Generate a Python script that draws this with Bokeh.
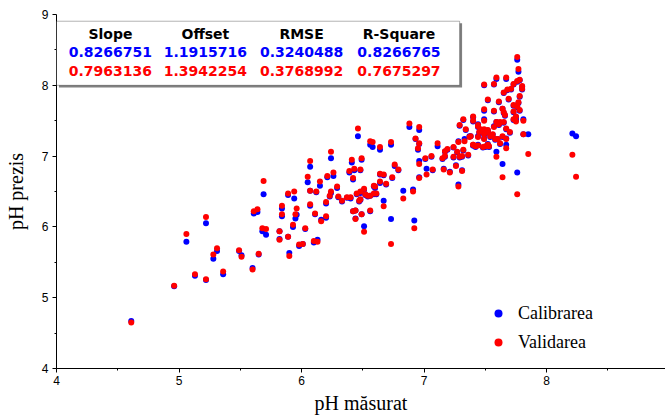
from bokeh.plotting import figure
from bokeh.models import Range1d, BoxAnnotation, Label, Legend, LegendItem, ColumnDataSource, FixedTicker
from bokeh.embed import file_html
from bokeh.resources import INLINE

# pH measured (x) with predicted pH for calibration (blue) and validation (red)
ph_masurat = [
    4.61, 4.96, 5.13, 5.22, 5.06, 5.22, 5.31, 5.28, 5.36, 5.49, 5.51, 5.60, 5.65, 5.61, 5.64,
    5.90, 5.68, 5.71, 5.82, 5.82, 5.89, 5.98, 6.01, 6.10, 6.13, 5.69, 6.07, 6.12, 5.89, 5.94,
    5.84, 5.84, 5.93, 5.96, 5.95, 6.07, 6.11, 6.16, 6.20, 6.03, 6.05, 6.07, 6.15, 6.21, 6.26,
    6.24, 6.29, 6.24, 6.23, 6.20, 6.30, 6.33, 6.37, 6.40, 6.45, 6.48, 6.51, 6.48, 6.54, 6.60,
    6.56, 6.52, 6.64, 6.64, 6.67, 6.69, 6.74, 6.59, 6.59, 6.61, 6.46, 6.56, 6.58, 6.64, 6.73,
    6.41, 6.49, 6.39, 6.43, 6.48, 6.42, 6.76, 6.79, 6.67, 6.83, 6.91, 6.73, 6.92, 6.51, 6.44,
    6.42, 6.44, 6.49, 6.56, 6.47, 6.88, 6.96, 6.93, 6.96, 6.95, 6.96, 7.02, 7.06, 7.01, 7.07,
    6.96, 7.11, 7.15, 7.17, 7.19, 7.17, 7.16, 7.21, 7.24, 7.28, 7.27, 7.24, 7.29, 7.31, 7.26,
    7.31, 7.28, 7.33, 7.36, 7.37, 7.32, 7.29, 7.32, 7.34, 7.40, 7.40, 7.40, 7.76, 7.77, 7.59,
    7.67, 7.49, 7.57, 7.65, 7.68, 7.73, 7.76, 7.78, 7.80, 7.80, 7.71, 7.52, 7.61, 7.69, 7.78,
    7.77, 7.64, 7.49, 7.57, 7.73, 7.76, 7.78, 7.73, 7.75, 7.73, 7.75, 7.65, 7.66, 7.81, 7.49,
    7.44, 7.59, 7.62, 7.65, 7.61, 7.57, 7.44, 7.46, 7.49, 7.52, 7.45, 7.49, 7.52, 7.67, 7.70,
    7.64, 7.67, 7.54, 7.56, 7.58, 7.60, 7.38, 7.44, 7.49, 7.40, 7.42, 7.44, 7.48, 7.50, 7.52,
    7.53, 7.62, 7.67, 7.59, 7.64, 7.76, 7.81, 7.85, 8.21, 8.24,
]
ph_calibrare = [
    4.67, 5.16, 5.31, 5.25, 5.79, 6.05, 5.66, 5.55, 5.33, 5.66, 5.60, 5.42, 5.61, 6.19, 6.21,
    5.63, 5.94, 5.89, 5.94, 5.83, 5.86, 5.73, 5.76, 5.78, 5.82, 6.46, 6.51, 6.49, 6.45, 6.40,
    6.26, 6.15, 6.00, 6.17, 6.12, 6.30, 6.18, 6.10, 6.13, 5.97, 6.63, 6.85, 6.58, 6.70, 6.72,
    6.97, 6.55, 6.48, 6.43, 6.33, 6.42, 6.36, 6.41, 6.40, 6.46, 6.48, 6.52, 6.38, 6.43, 6.55,
    6.44, 6.45, 6.74, 6.62, 6.73, 6.60, 6.69, 6.57, 6.46, 6.46, 7.28, 7.16, 7.13, 7.09, 7.16,
    6.91, 6.95, 6.77, 6.80, 6.80, 6.67, 6.86, 6.80, 6.37, 6.51, 6.53, 6.11, 6.09, 6.01, 6.12,
    6.22, 6.23, 6.18, 6.22, 6.36, 7.41, 7.37, 7.24, 7.17, 7.09, 6.93, 6.82, 6.99, 6.96, 6.80,
    6.70, 7.14, 6.96, 7.06, 7.09, 6.99, 6.82, 6.78, 7.12, 7.21, 7.05, 6.98, 6.98, 6.99, 6.87,
    6.80, 6.60, 7.24, 7.01, 7.28, 7.08, 7.43, 7.51, 7.37, 7.15, 7.55, 7.49, 8.36, 8.19, 8.09,
    8.09, 8.00, 8.01, 7.89, 7.93, 8.01, 8.05, 8.07, 7.98, 7.94, 7.94, 7.79, 7.76, 7.80, 7.84,
    7.75, 7.67, 7.64, 7.63, 7.71, 7.69, 7.64, 7.62, 7.55, 7.51, 7.51, 7.61, 7.57, 7.52, 7.52,
    7.45, 7.48, 7.47, 7.47, 7.44, 7.42, 7.41, 7.37, 7.37, 7.36, 7.33, 7.30, 7.33, 7.38, 7.33,
    7.27, 7.25, 7.27, 7.30, 7.23, 7.24, 7.28, 7.28, 7.25, 7.15, 7.13, 7.16, 7.12, 7.13, 7.17,
    7.13, 7.17, 7.16, 7.06, 6.89, 6.77, 7.31, 7.31, 7.32, 7.28,
]
ph_validare = [
    4.65, 5.17, 5.33, 5.26, 5.90, 6.14, 5.70, 5.61, 5.37, 5.67, 5.58, 5.40, 5.62, 6.22, 6.25,
    5.59, 5.98, 5.97, 5.94, 5.82, 5.86, 5.75, 5.76, 5.80, 5.79, 6.65, 6.51, 6.50, 6.47, 6.50,
    6.30, 6.18, 6.03, 6.26, 6.18, 6.32, 6.19, 6.08, 6.15, 5.98, 6.71, 6.93, 6.64, 6.72, 6.77,
    7.06, 6.57, 6.50, 6.44, 6.35, 6.43, 6.37, 6.42, 6.42, 6.47, 6.50, 6.54, 6.39, 6.44, 6.57,
    6.44, 6.46, 6.75, 6.64, 6.74, 6.61, 6.70, 6.58, 6.47, 6.47, 7.39, 7.21, 7.20, 7.13, 7.20,
    6.95, 6.97, 6.79, 6.82, 6.81, 6.69, 6.88, 6.81, 6.29, 6.40, 6.50, 5.76, 5.98, 5.93, 6.11,
    6.22, 6.23, 6.18, 6.23, 6.37, 7.46, 7.41, 7.25, 7.18, 7.11, 6.89, 6.74, 7.00, 6.97, 6.81,
    6.69, 7.18, 6.97, 7.07, 7.10, 7.00, 6.81, 6.77, 7.13, 7.20, 7.06, 6.99, 6.99, 7.00, 6.86,
    6.79, 6.57, 7.21, 7.02, 7.27, 7.09, 7.44, 7.52, 7.38, 7.16, 7.56, 7.50, 8.40, 8.23, 8.11,
    8.11, 8.01, 8.02, 7.90, 7.94, 8.02, 8.06, 8.08, 7.99, 7.95, 7.95, 7.80, 7.77, 7.81, 7.85,
    7.76, 7.67, 7.66, 7.64, 7.72, 7.70, 7.65, 7.63, 7.56, 7.52, 7.49, 7.62, 7.58, 7.50, 7.50,
    7.44, 7.48, 7.48, 7.48, 7.45, 7.41, 7.42, 7.38, 7.38, 7.37, 7.34, 7.31, 7.34, 7.39, 7.34,
    7.28, 7.24, 7.28, 7.31, 7.24, 7.24, 7.28, 7.27, 7.24, 7.16, 7.14, 7.15, 7.13, 7.14, 7.16,
    7.14, 7.18, 7.11, 6.99, 6.70, 6.46, 7.31, 7.03, 7.02, 6.71,
]

# statistics table
stat_headers = ["Slope", "Offset", "RMSE", "R-Square"]
stats_calibrare = ["0.8266751", "1.1915716", "0.3240488", "0.8266765"]
stats_validare = ["0.7963136", "1.3942254", "0.3768992", "0.7675297"]

# axis ticks
x_ticks = [4, 5, 6, 7, 8]
y_ticks = [4, 5, 6, 7, 8, 9]

BLUE = "#0000FF"
RED = "#FF0000"

p = figure(width=665, height=416, output_backend="svg", toolbar_location=None,
           x_range=Range1d(4, 8.97), y_range=Range1d(4, 9),
           min_border_left=56, min_border_right=0, min_border_top=14, min_border_bottom=44)
p.outline_line_color = None
p.grid.visible = False
p.background_fill_color = "white"
p.border_fill_color = "white"

src_c = ColumnDataSource(dict(x=ph_masurat, y=ph_calibrare))
src_v = ColumnDataSource(dict(x=ph_masurat, y=ph_validare))
r_c = p.scatter("x", "y", source=src_c, size=6, color=BLUE, line_width=0)
r_v = p.scatter("x", "y", source=src_v, size=6, color=RED, line_width=0)

for ax in (p.xaxis[0], p.yaxis[0]):
    ax.axis_line_color = "black"
    ax.axis_line_width = 1
    ax.major_tick_out = 4
    ax.major_tick_in = 0
    ax.minor_tick_out = 2
    ax.minor_tick_in = 0
    ax.major_tick_line_color = "black"
    ax.minor_tick_line_color = "black"
    ax.major_label_text_font = "Liberation Sans"
    ax.major_label_text_font_size = "12px"
    ax.major_label_text_color = "black"
    ax.axis_label_text_font = "Liberation Serif"
    ax.axis_label_text_font_size = "20px"
    ax.axis_label_text_font_style = "normal"
    ax.axis_label_text_color = "black"

p.xaxis[0].ticker = FixedTicker(ticks=x_ticks, minor_ticks=[t + 0.5 for t in x_ticks])
p.yaxis[0].ticker = FixedTicker(ticks=y_ticks, minor_ticks=[t + 0.5 for t in y_ticks[:-1]])
p.xaxis.axis_label = "pH măsurat"
p.yaxis.axis_label = "pH prezis"
p.xaxis.major_label_standoff = 3
p.yaxis.major_label_standoff = 4
p.xaxis.axis_label_standoff = 4
p.yaxis.axis_label_standoff = 12

# statistics table box (with a thin shadow)
tbl_left, tbl_right, tbl_bottom, tbl_top = 4.0, 7.29, 8.0, 8.905
p.add_layout(BoxAnnotation(left=tbl_left + 0.02, right=tbl_right + 0.02, bottom=tbl_bottom - 0.03,
                           top=tbl_top - 0.03, fill_color="#808080", fill_alpha=1,
                           line_color=None))
p.add_layout(BoxAnnotation(left=tbl_left, right=tbl_right, bottom=tbl_bottom, top=tbl_top,
                           fill_color="white", fill_alpha=1, line_color="black", line_width=1))

col_x = [4.44, 5.215, 6.0, 6.795]
row_y = [8.73, 8.47, 8.195]
for i in range(4):
    for txt, yy, col in ((stat_headers[i], row_y[0], "black"),
                         (stats_calibrare[i], row_y[1], BLUE),
                         (stats_validare[i], row_y[2], RED)):
        p.add_layout(Label(x=col_x[i], y=yy, text=txt, text_align="center",
                           text_baseline="middle", text_font="DejaVu Sans",
                           text_font_style="bold", text_font_size="14px", text_color=col))

legend = Legend(items=[LegendItem(label="Calibrarea", renderers=[r_c]),
                       LegendItem(label="Validarea", renderers=[r_v])],
                location=(432, 13), border_line_color=None, background_fill_alpha=0,
                label_text_font="Liberation Serif", label_text_font_size="18px",
                label_text_color="black", glyph_height=26, label_height=26, spacing=3,
                label_standoff=10, padding=10, margin=0)
p.add_layout(legend)

open("out.html", "w").write(file_html(p, INLINE))
